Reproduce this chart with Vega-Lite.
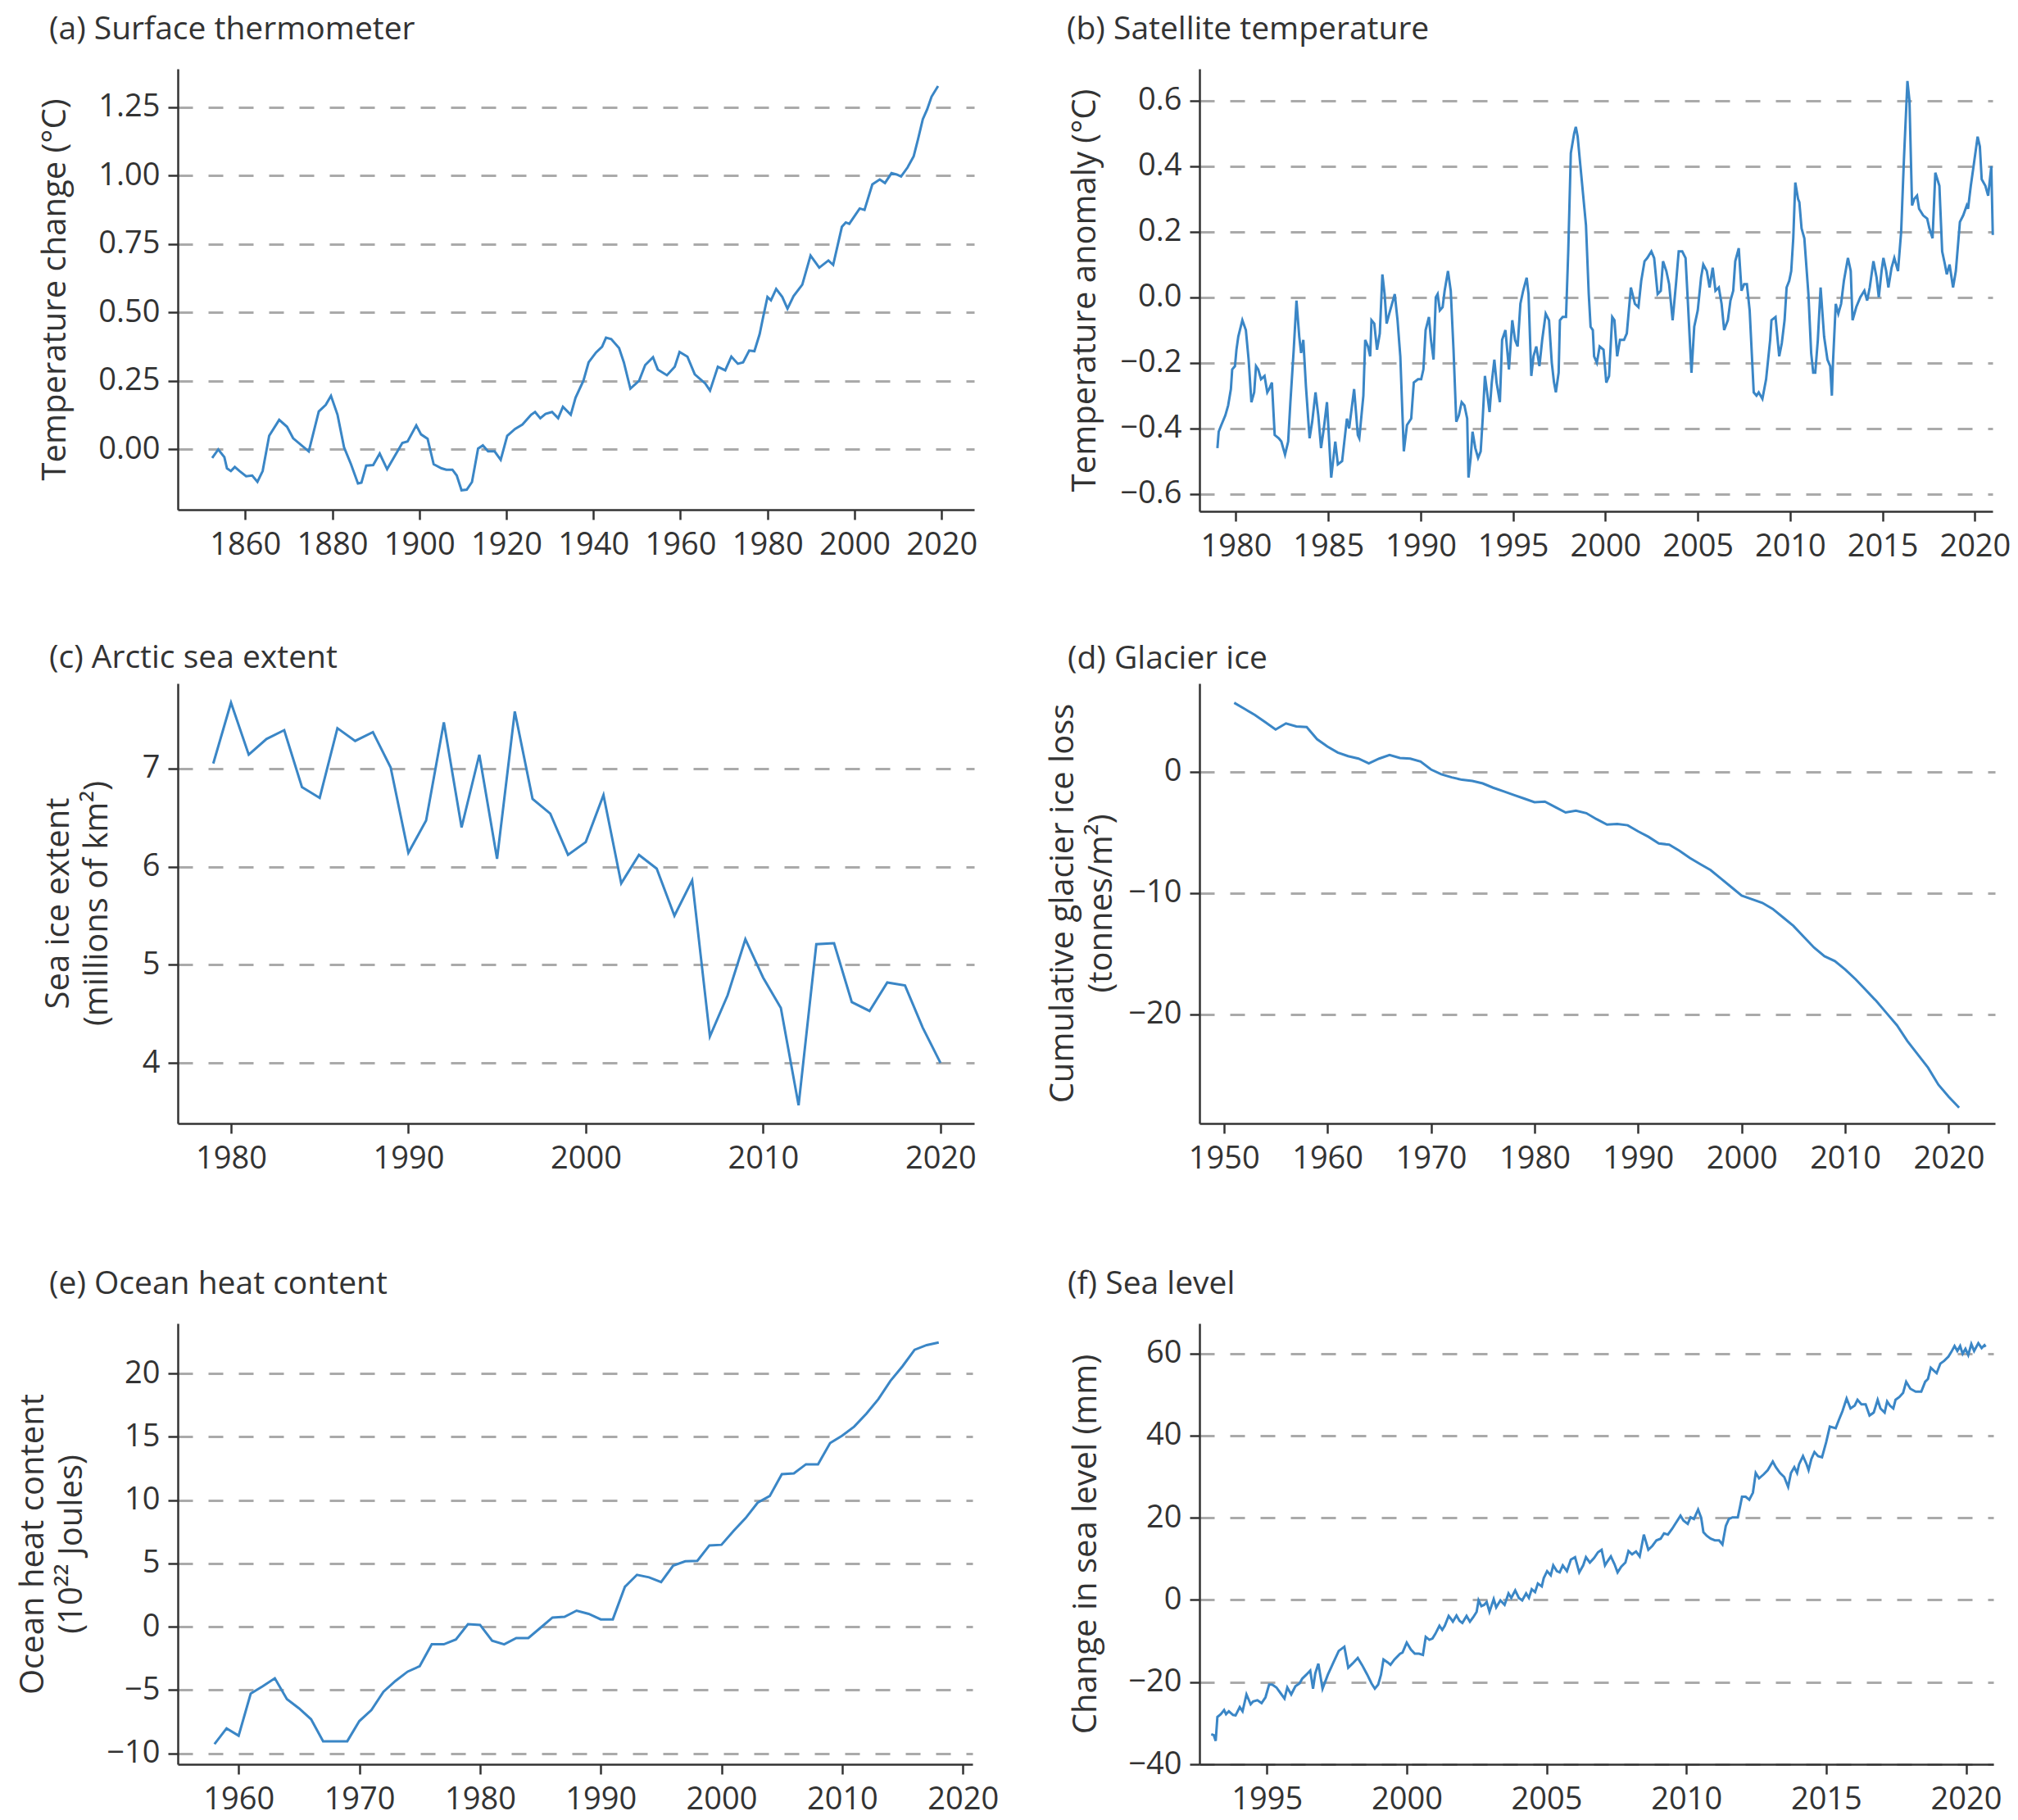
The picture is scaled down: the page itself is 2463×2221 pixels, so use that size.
{
  "$schema": "https://vega.github.io/schema/vega-lite/v6.json",
  "background": "white",
  "padding": {"left": 19, "top": 17, "right": 10, "bottom": 10},
  "datasets": {
    "a": [
      {"year": 1852.4, "value": -0.031}, {"year": 1853.8, "value": 0.0}, {"year": 1855.2, "value": -0.028}, {"year": 1855.8, "value": -0.069},
      {"year": 1856.7, "value": -0.079}, {"year": 1857.6, "value": -0.064}, {"year": 1858.7, "value": -0.079}, {"year": 1860.2, "value": -0.098},
      {"year": 1861.6, "value": -0.095}, {"year": 1862.8, "value": -0.118}, {"year": 1864.0, "value": -0.079}, {"year": 1865.5, "value": 0.05},
      {"year": 1867.8, "value": 0.108}, {"year": 1869.6, "value": 0.083}, {"year": 1871.0, "value": 0.041}, {"year": 1874.6, "value": -0.007},
      {"year": 1876.9, "value": 0.139}, {"year": 1878.5, "value": 0.163}, {"year": 1879.7, "value": 0.196}, {"year": 1881.2, "value": 0.127},
      {"year": 1882.7, "value": 0.008}, {"year": 1884.3, "value": -0.054}, {"year": 1885.9, "value": -0.124}, {"year": 1886.7, "value": -0.121},
      {"year": 1887.8, "value": -0.059}, {"year": 1889.4, "value": -0.057}, {"year": 1890.9, "value": -0.015}, {"year": 1892.6, "value": -0.072},
      {"year": 1896.1, "value": 0.024}, {"year": 1897.3, "value": 0.029}, {"year": 1899.3, "value": 0.088}, {"year": 1900.4, "value": 0.055},
      {"year": 1901.9, "value": 0.039}, {"year": 1903.3, "value": -0.054}, {"year": 1905.1, "value": -0.069}, {"year": 1906.2, "value": -0.074},
      {"year": 1907.6, "value": -0.074}, {"year": 1908.6, "value": -0.095}, {"year": 1909.7, "value": -0.149}, {"year": 1910.9, "value": -0.147},
      {"year": 1912.1, "value": -0.119}, {"year": 1913.5, "value": 0.003}, {"year": 1914.6, "value": 0.015}, {"year": 1915.8, "value": -0.007},
      {"year": 1917.3, "value": -0.007}, {"year": 1918.7, "value": -0.038}, {"year": 1920.2, "value": 0.05}, {"year": 1922.0, "value": 0.075},
      {"year": 1923.7, "value": 0.091}, {"year": 1925.7, "value": 0.127}, {"year": 1926.6, "value": 0.137}, {"year": 1927.8, "value": 0.114},
      {"year": 1929.0, "value": 0.13}, {"year": 1930.5, "value": 0.137}, {"year": 1931.9, "value": 0.114}, {"year": 1933.0, "value": 0.156},
      {"year": 1934.8, "value": 0.127}, {"year": 1935.9, "value": 0.189}, {"year": 1937.7, "value": 0.251}, {"year": 1938.9, "value": 0.318},
      {"year": 1940.6, "value": 0.354}, {"year": 1942.0, "value": 0.375}, {"year": 1942.9, "value": 0.408}, {"year": 1944.1, "value": 0.403},
      {"year": 1945.9, "value": 0.37}, {"year": 1947.0, "value": 0.318}, {"year": 1948.5, "value": 0.222}, {"year": 1950.5, "value": 0.251},
      {"year": 1951.9, "value": 0.308}, {"year": 1953.7, "value": 0.337}, {"year": 1954.8, "value": 0.292}, {"year": 1956.9, "value": 0.271},
      {"year": 1958.7, "value": 0.302}, {"year": 1959.8, "value": 0.356}, {"year": 1961.6, "value": 0.339}, {"year": 1963.3, "value": 0.274},
      {"year": 1965.7, "value": 0.241}, {"year": 1966.8, "value": 0.215}, {"year": 1968.6, "value": 0.302}, {"year": 1970.3, "value": 0.289},
      {"year": 1971.7, "value": 0.339}, {"year": 1973.2, "value": 0.313}, {"year": 1974.4, "value": 0.318}, {"year": 1975.8, "value": 0.361},
      {"year": 1977.0, "value": 0.359}, {"year": 1978.2, "value": 0.421}, {"year": 1979.0, "value": 0.483}, {"year": 1980.0, "value": 0.557},
      {"year": 1980.8, "value": 0.545}, {"year": 1982.0, "value": 0.586}, {"year": 1983.4, "value": 0.557}, {"year": 1984.6, "value": 0.514},
      {"year": 1986.0, "value": 0.56}, {"year": 1988.0, "value": 0.602}, {"year": 1989.9, "value": 0.708}, {"year": 1991.9, "value": 0.664},
      {"year": 1994.0, "value": 0.69}, {"year": 1995.1, "value": 0.674}, {"year": 1997.1, "value": 0.813}, {"year": 1998.0, "value": 0.829},
      {"year": 1998.8, "value": 0.824}, {"year": 2001.2, "value": 0.88}, {"year": 2002.3, "value": 0.875}, {"year": 2004.1, "value": 0.968},
      {"year": 2005.8, "value": 0.986}, {"year": 2007.0, "value": 0.973}, {"year": 2008.5, "value": 1.009}, {"year": 2009.7, "value": 1.004},
      {"year": 2010.7, "value": 0.997}, {"year": 2012.2, "value": 1.03}, {"year": 2013.6, "value": 1.071}, {"year": 2014.6, "value": 1.133},
      {"year": 2015.7, "value": 1.206}, {"year": 2016.7, "value": 1.242}, {"year": 2017.7, "value": 1.288}, {"year": 2019.2, "value": 1.327}
    ],
    "b": [
      {"year": 1979.0, "value": -0.46}, {"year": 1979.07, "value": -0.41}, {"year": 1979.21, "value": -0.39}, {"year": 1979.43, "value": -0.36},
      {"year": 1979.58, "value": -0.33}, {"year": 1979.73, "value": -0.28}, {"year": 1979.8, "value": -0.22}, {"year": 1979.95, "value": -0.21},
      {"year": 1980.03, "value": -0.16}, {"year": 1980.13, "value": -0.12}, {"year": 1980.35, "value": -0.07}, {"year": 1980.54, "value": -0.1},
      {"year": 1980.69, "value": -0.19}, {"year": 1980.84, "value": -0.32}, {"year": 1980.99, "value": -0.29}, {"year": 1981.09, "value": -0.21},
      {"year": 1981.21, "value": -0.22}, {"year": 1981.36, "value": -0.25}, {"year": 1981.55, "value": -0.24}, {"year": 1981.7, "value": -0.29},
      {"year": 1981.8, "value": -0.28}, {"year": 1981.95, "value": -0.26}, {"year": 1982.1, "value": -0.42}, {"year": 1982.32, "value": -0.43},
      {"year": 1982.46, "value": -0.44}, {"year": 1982.66, "value": -0.48}, {"year": 1982.83, "value": -0.44}, {"year": 1982.95, "value": -0.32},
      {"year": 1983.13, "value": -0.16}, {"year": 1983.28, "value": -0.01}, {"year": 1983.43, "value": -0.12}, {"year": 1983.53, "value": -0.17},
      {"year": 1983.65, "value": -0.13}, {"year": 1983.79, "value": -0.27}, {"year": 1983.99, "value": -0.43}, {"year": 1984.13, "value": -0.38},
      {"year": 1984.31, "value": -0.29}, {"year": 1984.46, "value": -0.36}, {"year": 1984.61, "value": -0.46}, {"year": 1984.76, "value": -0.4},
      {"year": 1984.93, "value": -0.32}, {"year": 1985.16, "value": -0.55}, {"year": 1985.38, "value": -0.44}, {"year": 1985.52, "value": -0.51},
      {"year": 1985.75, "value": -0.5}, {"year": 1986.01, "value": -0.37}, {"year": 1986.13, "value": -0.4}, {"year": 1986.4, "value": -0.28},
      {"year": 1986.6, "value": -0.42}, {"year": 1986.68, "value": -0.43}, {"year": 1986.9, "value": -0.3}, {"year": 1987.0, "value": -0.13},
      {"year": 1987.15, "value": -0.15}, {"year": 1987.27, "value": -0.18}, {"year": 1987.34, "value": -0.07}, {"year": 1987.49, "value": -0.08},
      {"year": 1987.64, "value": -0.16}, {"year": 1987.79, "value": -0.11}, {"year": 1987.93, "value": 0.07}, {"year": 1988.05, "value": 0.01},
      {"year": 1988.16, "value": -0.08}, {"year": 1988.3, "value": -0.05}, {"year": 1988.45, "value": -0.02}, {"year": 1988.6, "value": 0.01},
      {"year": 1988.75, "value": -0.07}, {"year": 1988.9, "value": -0.18}, {"year": 1989.09, "value": -0.47}, {"year": 1989.26, "value": -0.39},
      {"year": 1989.49, "value": -0.37}, {"year": 1989.63, "value": -0.26}, {"year": 1989.86, "value": -0.25}, {"year": 1990.03, "value": -0.25},
      {"year": 1990.15, "value": -0.22}, {"year": 1990.27, "value": -0.1}, {"year": 1990.45, "value": -0.06}, {"year": 1990.56, "value": -0.13},
      {"year": 1990.7, "value": -0.19}, {"year": 1990.82, "value": 0.0}, {"year": 1990.92, "value": 0.01}, {"year": 1991.04, "value": -0.04},
      {"year": 1991.19, "value": -0.03}, {"year": 1991.3, "value": 0.02}, {"year": 1991.48, "value": 0.08}, {"year": 1991.63, "value": 0.02},
      {"year": 1991.78, "value": -0.16}, {"year": 1991.93, "value": -0.38}, {"year": 1992.07, "value": -0.36}, {"year": 1992.22, "value": -0.32},
      {"year": 1992.37, "value": -0.33}, {"year": 1992.52, "value": -0.37}, {"year": 1992.59, "value": -0.55}, {"year": 1992.71, "value": -0.49},
      {"year": 1992.81, "value": -0.41}, {"year": 1992.96, "value": -0.46}, {"year": 1993.11, "value": -0.49}, {"year": 1993.25, "value": -0.47},
      {"year": 1993.36, "value": -0.37}, {"year": 1993.48, "value": -0.24}, {"year": 1993.62, "value": -0.3}, {"year": 1993.73, "value": -0.35},
      {"year": 1993.85, "value": -0.26}, {"year": 1993.99, "value": -0.19}, {"year": 1994.11, "value": -0.26}, {"year": 1994.29, "value": -0.32},
      {"year": 1994.41, "value": -0.13}, {"year": 1994.59, "value": -0.1}, {"year": 1994.78, "value": -0.22}, {"year": 1994.96, "value": -0.07},
      {"year": 1995.11, "value": -0.13}, {"year": 1995.25, "value": -0.15}, {"year": 1995.4, "value": -0.02}, {"year": 1995.55, "value": 0.02},
      {"year": 1995.74, "value": 0.06}, {"year": 1995.84, "value": 0.01}, {"year": 1995.99, "value": -0.24}, {"year": 1996.11, "value": -0.18},
      {"year": 1996.26, "value": -0.15}, {"year": 1996.43, "value": -0.21}, {"year": 1996.58, "value": -0.13}, {"year": 1996.77, "value": -0.05},
      {"year": 1996.95, "value": -0.07}, {"year": 1997.1, "value": -0.2}, {"year": 1997.22, "value": -0.26}, {"year": 1997.32, "value": -0.29},
      {"year": 1997.47, "value": -0.23}, {"year": 1997.54, "value": -0.07}, {"year": 1997.69, "value": -0.06}, {"year": 1997.87, "value": -0.06},
      {"year": 1997.99, "value": 0.14}, {"year": 1998.13, "value": 0.44}, {"year": 1998.31, "value": 0.5}, {"year": 1998.4, "value": 0.52},
      {"year": 1998.5, "value": 0.49}, {"year": 1998.65, "value": 0.4}, {"year": 1998.8, "value": 0.31}, {"year": 1998.95, "value": 0.22},
      {"year": 1999.1, "value": 0.01}, {"year": 1999.2, "value": -0.09}, {"year": 1999.32, "value": -0.1}, {"year": 1999.39, "value": -0.18},
      {"year": 1999.54, "value": -0.2}, {"year": 1999.69, "value": -0.15}, {"year": 1999.9, "value": -0.16}, {"year": 2000.05, "value": -0.26},
      {"year": 2000.2, "value": -0.24}, {"year": 2000.37, "value": -0.06}, {"year": 2000.49, "value": -0.07}, {"year": 2000.64, "value": -0.18},
      {"year": 2000.79, "value": -0.13}, {"year": 2001.01, "value": -0.13}, {"year": 2001.16, "value": -0.11}, {"year": 2001.38, "value": 0.03},
      {"year": 2001.6, "value": -0.02}, {"year": 2001.79, "value": -0.03}, {"year": 2001.94, "value": 0.05}, {"year": 2002.12, "value": 0.11},
      {"year": 2002.27, "value": 0.12}, {"year": 2002.49, "value": 0.14}, {"year": 2002.64, "value": 0.12}, {"year": 2002.83, "value": 0.01},
      {"year": 2003.0, "value": 0.02}, {"year": 2003.12, "value": 0.11}, {"year": 2003.3, "value": 0.08}, {"year": 2003.45, "value": 0.04},
      {"year": 2003.64, "value": -0.07}, {"year": 2003.82, "value": 0.04}, {"year": 2003.97, "value": 0.14}, {"year": 2004.16, "value": 0.14},
      {"year": 2004.34, "value": 0.12}, {"year": 2004.48, "value": -0.03}, {"year": 2004.66, "value": -0.23}, {"year": 2004.81, "value": -0.09},
      {"year": 2005.0, "value": -0.04}, {"year": 2005.18, "value": 0.06}, {"year": 2005.3, "value": 0.1}, {"year": 2005.49, "value": 0.08},
      {"year": 2005.64, "value": 0.03}, {"year": 2005.81, "value": 0.09}, {"year": 2005.96, "value": 0.02}, {"year": 2006.14, "value": 0.03},
      {"year": 2006.29, "value": -0.02}, {"year": 2006.43, "value": -0.1}, {"year": 2006.63, "value": -0.07}, {"year": 2006.77, "value": -0.01},
      {"year": 2006.92, "value": 0.02}, {"year": 2007.03, "value": 0.11}, {"year": 2007.22, "value": 0.15}, {"year": 2007.37, "value": 0.02},
      {"year": 2007.51, "value": 0.04}, {"year": 2007.66, "value": 0.04}, {"year": 2007.81, "value": -0.04}, {"year": 2008.03, "value": -0.29},
      {"year": 2008.18, "value": -0.3}, {"year": 2008.3, "value": -0.29}, {"year": 2008.5, "value": -0.31}, {"year": 2008.7, "value": -0.25},
      {"year": 2008.92, "value": -0.13}, {"year": 2008.99, "value": -0.07}, {"year": 2009.21, "value": -0.06}, {"year": 2009.41, "value": -0.18},
      {"year": 2009.55, "value": -0.14}, {"year": 2009.7, "value": -0.07}, {"year": 2009.81, "value": 0.03}, {"year": 2009.95, "value": 0.05},
      {"year": 2010.06, "value": 0.08}, {"year": 2010.17, "value": 0.18}, {"year": 2010.28, "value": 0.35}, {"year": 2010.43, "value": 0.3},
      {"year": 2010.5, "value": 0.29}, {"year": 2010.62, "value": 0.21}, {"year": 2010.77, "value": 0.18}, {"year": 2010.99, "value": 0.01},
      {"year": 2011.14, "value": -0.17}, {"year": 2011.25, "value": -0.23}, {"year": 2011.36, "value": -0.23}, {"year": 2011.5, "value": -0.13},
      {"year": 2011.65, "value": 0.03}, {"year": 2011.84, "value": -0.12}, {"year": 2012.02, "value": -0.19}, {"year": 2012.17, "value": -0.21},
      {"year": 2012.26, "value": -0.3}, {"year": 2012.32, "value": -0.2}, {"year": 2012.47, "value": -0.02}, {"year": 2012.61, "value": -0.05},
      {"year": 2012.76, "value": -0.02}, {"year": 2012.91, "value": 0.05}, {"year": 2013.13, "value": 0.12}, {"year": 2013.28, "value": 0.08},
      {"year": 2013.38, "value": -0.07}, {"year": 2013.58, "value": -0.03}, {"year": 2013.8, "value": 0.0}, {"year": 2014.02, "value": 0.02},
      {"year": 2014.17, "value": -0.01}, {"year": 2014.31, "value": 0.03}, {"year": 2014.51, "value": 0.11}, {"year": 2014.68, "value": 0.06},
      {"year": 2014.8, "value": 0.0}, {"year": 2014.95, "value": 0.08}, {"year": 2015.05, "value": 0.12}, {"year": 2015.2, "value": 0.08},
      {"year": 2015.32, "value": 0.03}, {"year": 2015.49, "value": 0.09}, {"year": 2015.64, "value": 0.12}, {"year": 2015.84, "value": 0.08},
      {"year": 2016.01, "value": 0.2}, {"year": 2016.16, "value": 0.42}, {"year": 2016.35, "value": 0.66}, {"year": 2016.46, "value": 0.6},
      {"year": 2016.6, "value": 0.28}, {"year": 2016.72, "value": 0.3}, {"year": 2016.87, "value": 0.31}, {"year": 2016.98, "value": 0.27},
      {"year": 2017.2, "value": 0.25}, {"year": 2017.42, "value": 0.24}, {"year": 2017.54, "value": 0.21}, {"year": 2017.71, "value": 0.18},
      {"year": 2017.86, "value": 0.38}, {"year": 2018.08, "value": 0.34}, {"year": 2018.23, "value": 0.14}, {"year": 2018.38, "value": 0.1},
      {"year": 2018.48, "value": 0.07}, {"year": 2018.63, "value": 0.1}, {"year": 2018.82, "value": 0.03}, {"year": 2018.97, "value": 0.08},
      {"year": 2019.19, "value": 0.23}, {"year": 2019.37, "value": 0.25}, {"year": 2019.56, "value": 0.28}, {"year": 2019.63, "value": 0.27},
      {"year": 2019.78, "value": 0.34}, {"year": 2019.93, "value": 0.4}, {"year": 2020.15, "value": 0.49}, {"year": 2020.27, "value": 0.46},
      {"year": 2020.37, "value": 0.36}, {"year": 2020.57, "value": 0.34}, {"year": 2020.72, "value": 0.31}, {"year": 2020.89, "value": 0.4},
      {"year": 2020.97, "value": 0.19}
    ],
    "c": [
      {"year": 1979, "value": 7.05}, {"year": 1980, "value": 7.67}, {"year": 1981, "value": 7.14}, {"year": 1982, "value": 7.3},
      {"year": 1983, "value": 7.39}, {"year": 1984, "value": 6.81}, {"year": 1985, "value": 6.7}, {"year": 1986, "value": 7.41},
      {"year": 1987, "value": 7.28}, {"year": 1988, "value": 7.37}, {"year": 1989, "value": 7.01}, {"year": 1990, "value": 6.14},
      {"year": 1991, "value": 6.47}, {"year": 1992, "value": 7.47}, {"year": 1993, "value": 6.4}, {"year": 1994, "value": 7.14},
      {"year": 1995, "value": 6.08}, {"year": 1996, "value": 7.58}, {"year": 1997, "value": 6.69}, {"year": 1998, "value": 6.54},
      {"year": 1999, "value": 6.12}, {"year": 2000, "value": 6.25}, {"year": 2001, "value": 6.73}, {"year": 2002, "value": 5.83},
      {"year": 2003, "value": 6.12}, {"year": 2004, "value": 5.98}, {"year": 2005, "value": 5.5}, {"year": 2006, "value": 5.86},
      {"year": 2007, "value": 4.27}, {"year": 2008, "value": 4.69}, {"year": 2009, "value": 5.26}, {"year": 2010, "value": 4.87},
      {"year": 2011, "value": 4.56}, {"year": 2012, "value": 3.57}, {"year": 2013, "value": 5.21}, {"year": 2014, "value": 5.22},
      {"year": 2015, "value": 4.62}, {"year": 2016, "value": 4.53}, {"year": 2017, "value": 4.82}, {"year": 2018, "value": 4.79},
      {"year": 2019, "value": 4.36}, {"year": 2020, "value": 4.0}
    ],
    "d": [
      {"year": 1951, "value": 5.7}, {"year": 1952, "value": 5.2}, {"year": 1953, "value": 4.7}, {"year": 1954, "value": 4.1},
      {"year": 1955, "value": 3.5}, {"year": 1956, "value": 4.0}, {"year": 1957, "value": 3.75}, {"year": 1958, "value": 3.7},
      {"year": 1959, "value": 2.7}, {"year": 1960, "value": 2.1}, {"year": 1961, "value": 1.6}, {"year": 1962, "value": 1.3},
      {"year": 1963, "value": 1.1}, {"year": 1964, "value": 0.7}, {"year": 1965, "value": 1.1}, {"year": 1966, "value": 1.4},
      {"year": 1967, "value": 1.15}, {"year": 1968, "value": 1.1}, {"year": 1969, "value": 0.85}, {"year": 1970, "value": 0.2},
      {"year": 1971, "value": -0.2}, {"year": 1972, "value": -0.45}, {"year": 1973, "value": -0.65}, {"year": 1974, "value": -0.75},
      {"year": 1975, "value": -0.95}, {"year": 1976, "value": -1.3}, {"year": 1977, "value": -1.6}, {"year": 1978, "value": -1.9},
      {"year": 1979, "value": -2.2}, {"year": 1980, "value": -2.5}, {"year": 1981, "value": -2.45}, {"year": 1982, "value": -2.9},
      {"year": 1983, "value": -3.35}, {"year": 1984, "value": -3.2}, {"year": 1985, "value": -3.4}, {"year": 1986, "value": -3.9},
      {"year": 1987, "value": -4.35}, {"year": 1988, "value": -4.3}, {"year": 1989, "value": -4.4}, {"year": 1990, "value": -4.9},
      {"year": 1991, "value": -5.35}, {"year": 1992, "value": -5.9}, {"year": 1993, "value": -6.0}, {"year": 1994, "value": -6.5},
      {"year": 1995, "value": -7.1}, {"year": 1996, "value": -7.6}, {"year": 1997, "value": -8.1}, {"year": 1998, "value": -8.8},
      {"year": 1999, "value": -9.5}, {"year": 2000, "value": -10.2}, {"year": 2001, "value": -10.5}, {"year": 2002, "value": -10.8},
      {"year": 2003, "value": -11.3}, {"year": 2004, "value": -12.0}, {"year": 2005, "value": -12.7}, {"year": 2006, "value": -13.6},
      {"year": 2007, "value": -14.5}, {"year": 2008, "value": -15.2}, {"year": 2009, "value": -15.6}, {"year": 2010, "value": -16.3},
      {"year": 2011, "value": -17.1}, {"year": 2012, "value": -18.0}, {"year": 2013, "value": -18.9}, {"year": 2014, "value": -19.9},
      {"year": 2015, "value": -20.9}, {"year": 2016, "value": -22.2}, {"year": 2017, "value": -23.3}, {"year": 2018, "value": -24.4},
      {"year": 2019, "value": -25.8}, {"year": 2020, "value": -26.8}, {"year": 2021, "value": -27.7}
    ],
    "e": [
      {"year": 1958, "value": -9.28}, {"year": 1959, "value": -8.03}, {"year": 1960, "value": -8.61}, {"year": 1961, "value": -5.29},
      {"year": 1962, "value": -4.71}, {"year": 1963, "value": -4.08}, {"year": 1964, "value": -5.72}, {"year": 1965, "value": -6.45},
      {"year": 1966, "value": -7.31}, {"year": 1967, "value": -9.05}, {"year": 1968, "value": -9.05}, {"year": 1969, "value": -9.05},
      {"year": 1970, "value": -7.46}, {"year": 1971, "value": -6.59}, {"year": 1972, "value": -5.14}, {"year": 1973, "value": -4.28},
      {"year": 1974, "value": -3.55}, {"year": 1975, "value": -3.12}, {"year": 1976, "value": -1.39}, {"year": 1977, "value": -1.39},
      {"year": 1978, "value": -1.01}, {"year": 1979, "value": 0.2}, {"year": 1980, "value": 0.14}, {"year": 1981, "value": -1.1},
      {"year": 1982, "value": -1.39}, {"year": 1983, "value": -0.9}, {"year": 1984, "value": -0.9}, {"year": 1985, "value": -0.09},
      {"year": 1986, "value": 0.72}, {"year": 1987, "value": 0.78}, {"year": 1988, "value": 1.27}, {"year": 1989, "value": 1.01},
      {"year": 1990, "value": 0.58}, {"year": 1991, "value": 0.58}, {"year": 1992, "value": 3.15}, {"year": 1993, "value": 4.1},
      {"year": 1994, "value": 3.9}, {"year": 1995, "value": 3.53}, {"year": 1996, "value": 4.83}, {"year": 1997, "value": 5.17},
      {"year": 1998, "value": 5.2}, {"year": 1999, "value": 6.42}, {"year": 2000, "value": 6.47}, {"year": 2001, "value": 7.57},
      {"year": 2002, "value": 8.58}, {"year": 2003, "value": 9.8}, {"year": 2004, "value": 10.32}, {"year": 2005, "value": 12.05},
      {"year": 2006, "value": 12.11}, {"year": 2007, "value": 12.83}, {"year": 2008, "value": 12.83}, {"year": 2009, "value": 14.51},
      {"year": 2010, "value": 15.09}, {"year": 2011, "value": 15.81}, {"year": 2012, "value": 16.82}, {"year": 2013, "value": 17.98},
      {"year": 2014, "value": 19.42}, {"year": 2015, "value": 20.58}, {"year": 2016, "value": 21.88}, {"year": 2017, "value": 22.25},
      {"year": 2018, "value": 22.46}
    ],
    "f": [
      {"year": 1993.01, "value": -32.7}, {"year": 1993.1, "value": -32.9}, {"year": 1993.17, "value": -34.3}, {"year": 1993.23, "value": -28.5},
      {"year": 1993.35, "value": -27.8}, {"year": 1993.47, "value": -26.8}, {"year": 1993.54, "value": -27.8}, {"year": 1993.64, "value": -27.1},
      {"year": 1993.79, "value": -28.0}, {"year": 1993.88, "value": -28.1}, {"year": 1994.03, "value": -26.1}, {"year": 1994.13, "value": -27.1},
      {"year": 1994.27, "value": -23.0}, {"year": 1994.42, "value": -25.4}, {"year": 1994.51, "value": -24.7}, {"year": 1994.66, "value": -24.4},
      {"year": 1994.81, "value": -25.1}, {"year": 1994.95, "value": -23.7}, {"year": 1995.08, "value": -20.6}, {"year": 1995.19, "value": -20.6},
      {"year": 1995.34, "value": -21.3}, {"year": 1995.49, "value": -22.7}, {"year": 1995.63, "value": -24.0}, {"year": 1995.73, "value": -21.3},
      {"year": 1995.87, "value": -23.0}, {"year": 1996.02, "value": -21.0}, {"year": 1996.17, "value": -20.3}, {"year": 1996.26, "value": -19.2},
      {"year": 1996.41, "value": -18.2}, {"year": 1996.55, "value": -17.2}, {"year": 1996.65, "value": -21.6}, {"year": 1996.73, "value": -17.9},
      {"year": 1996.84, "value": -15.5}, {"year": 1996.99, "value": -21.6}, {"year": 1997.18, "value": -18.2}, {"year": 1997.38, "value": -15.2},
      {"year": 1997.57, "value": -12.4}, {"year": 1997.77, "value": -11.4}, {"year": 1997.91, "value": -16.5}, {"year": 1998.06, "value": -15.5},
      {"year": 1998.25, "value": -14.1}, {"year": 1998.4, "value": -15.8}, {"year": 1998.59, "value": -18.2}, {"year": 1998.74, "value": -20.3},
      {"year": 1998.86, "value": -21.6}, {"year": 1998.98, "value": -20.6}, {"year": 1999.08, "value": -18.2}, {"year": 1999.17, "value": -14.5},
      {"year": 1999.32, "value": -15.2}, {"year": 1999.42, "value": -15.8}, {"year": 1999.56, "value": -14.5}, {"year": 1999.76, "value": -13.1},
      {"year": 1999.85, "value": -12.8}, {"year": 2000.0, "value": -10.4}, {"year": 2000.15, "value": -12.1}, {"year": 2000.29, "value": -13.1},
      {"year": 2000.44, "value": -13.1}, {"year": 2000.58, "value": -13.4}, {"year": 2000.68, "value": -9.0}, {"year": 2000.81, "value": -9.7},
      {"year": 2000.92, "value": -9.4}, {"year": 2001.02, "value": -8.3}, {"year": 2001.17, "value": -6.3}, {"year": 2001.27, "value": -7.3},
      {"year": 2001.36, "value": -6.3}, {"year": 2001.5, "value": -3.9}, {"year": 2001.58, "value": -4.6}, {"year": 2001.65, "value": -5.3},
      {"year": 2001.78, "value": -3.8}, {"year": 2001.89, "value": -5.1}, {"year": 2001.99, "value": -5.6}, {"year": 2002.14, "value": -3.9},
      {"year": 2002.26, "value": -5.3}, {"year": 2002.38, "value": -4.2}, {"year": 2002.5, "value": -2.9}, {"year": 2002.57, "value": -0.1},
      {"year": 2002.67, "value": -1.5}, {"year": 2002.77, "value": -1.2}, {"year": 2002.86, "value": -0.5}, {"year": 2002.96, "value": -2.9},
      {"year": 2003.11, "value": 0.2}, {"year": 2003.2, "value": -1.8}, {"year": 2003.35, "value": -0.1}, {"year": 2003.5, "value": -1.2},
      {"year": 2003.64, "value": 1.6}, {"year": 2003.74, "value": 0.5}, {"year": 2003.88, "value": 2.3}, {"year": 2004.01, "value": 0.5},
      {"year": 2004.13, "value": -0.1}, {"year": 2004.27, "value": 1.6}, {"year": 2004.37, "value": 0.5}, {"year": 2004.47, "value": 2.6},
      {"year": 2004.59, "value": 1.9}, {"year": 2004.69, "value": 4.0}, {"year": 2004.83, "value": 3.3}, {"year": 2004.9, "value": 5.3},
      {"year": 2005.02, "value": 7.0}, {"year": 2005.15, "value": 6.0}, {"year": 2005.24, "value": 8.4}, {"year": 2005.37, "value": 7.0},
      {"year": 2005.47, "value": 6.7}, {"year": 2005.58, "value": 8.4}, {"year": 2005.73, "value": 7.0}, {"year": 2005.87, "value": 9.8},
      {"year": 2006.02, "value": 10.4}, {"year": 2006.17, "value": 6.7}, {"year": 2006.31, "value": 8.4}, {"year": 2006.41, "value": 10.4},
      {"year": 2006.55, "value": 9.1}, {"year": 2006.7, "value": 10.2}, {"year": 2006.84, "value": 11.6}, {"year": 2006.97, "value": 12.2},
      {"year": 2007.09, "value": 8.4}, {"year": 2007.18, "value": 9.4}, {"year": 2007.3, "value": 10.6}, {"year": 2007.43, "value": 8.7},
      {"year": 2007.54, "value": 6.7}, {"year": 2007.67, "value": 8.1}, {"year": 2007.82, "value": 9.1}, {"year": 2007.93, "value": 11.9},
      {"year": 2008.06, "value": 11.1}, {"year": 2008.2, "value": 11.8}, {"year": 2008.33, "value": 10.6}, {"year": 2008.48, "value": 15.9},
      {"year": 2008.64, "value": 12.2}, {"year": 2008.79, "value": 13.2}, {"year": 2008.93, "value": 14.5}, {"year": 2009.08, "value": 14.9},
      {"year": 2009.2, "value": 16.2}, {"year": 2009.34, "value": 15.9}, {"year": 2009.49, "value": 17.3}, {"year": 2009.61, "value": 18.6},
      {"year": 2009.79, "value": 20.5}, {"year": 2009.9, "value": 19.3}, {"year": 2010.05, "value": 18.5}, {"year": 2010.15, "value": 20.1},
      {"year": 2010.27, "value": 19.7}, {"year": 2010.42, "value": 22.0}, {"year": 2010.53, "value": 20.0}, {"year": 2010.61, "value": 16.5},
      {"year": 2010.73, "value": 15.6}, {"year": 2010.87, "value": 14.9}, {"year": 2011.02, "value": 14.5}, {"year": 2011.17, "value": 14.5},
      {"year": 2011.29, "value": 13.5}, {"year": 2011.41, "value": 18.0}, {"year": 2011.52, "value": 19.7}, {"year": 2011.65, "value": 20.1},
      {"year": 2011.84, "value": 20.1}, {"year": 2011.92, "value": 22.7}, {"year": 2011.99, "value": 25.1}, {"year": 2012.12, "value": 25.1},
      {"year": 2012.25, "value": 24.4}, {"year": 2012.38, "value": 26.1}, {"year": 2012.48, "value": 30.9}, {"year": 2012.6, "value": 29.6},
      {"year": 2012.77, "value": 30.6}, {"year": 2012.91, "value": 31.6}, {"year": 2013.09, "value": 33.7}, {"year": 2013.2, "value": 32.3},
      {"year": 2013.35, "value": 30.9}, {"year": 2013.5, "value": 29.9}, {"year": 2013.64, "value": 27.5}, {"year": 2013.74, "value": 30.9},
      {"year": 2013.86, "value": 32.3}, {"year": 2013.96, "value": 30.9}, {"year": 2014.03, "value": 33.0}, {"year": 2014.17, "value": 35.0},
      {"year": 2014.3, "value": 33.0}, {"year": 2014.37, "value": 31.6}, {"year": 2014.47, "value": 34.3}, {"year": 2014.58, "value": 36.0},
      {"year": 2014.71, "value": 35.0}, {"year": 2014.85, "value": 34.7}, {"year": 2015.0, "value": 38.4}, {"year": 2015.13, "value": 42.2},
      {"year": 2015.34, "value": 41.8}, {"year": 2015.46, "value": 43.9}, {"year": 2015.58, "value": 45.9}, {"year": 2015.73, "value": 49.0},
      {"year": 2015.87, "value": 46.6}, {"year": 2016.02, "value": 47.3}, {"year": 2016.12, "value": 48.7}, {"year": 2016.26, "value": 47.6},
      {"year": 2016.41, "value": 47.6}, {"year": 2016.55, "value": 44.9}, {"year": 2016.7, "value": 45.6}, {"year": 2016.84, "value": 48.7},
      {"year": 2016.94, "value": 46.6}, {"year": 2017.09, "value": 45.6}, {"year": 2017.18, "value": 48.3}, {"year": 2017.28, "value": 47.3},
      {"year": 2017.4, "value": 46.6}, {"year": 2017.48, "value": 48.7}, {"year": 2017.62, "value": 49.4}, {"year": 2017.75, "value": 50.4},
      {"year": 2017.86, "value": 53.1}, {"year": 2018.01, "value": 51.4}, {"year": 2018.2, "value": 50.7}, {"year": 2018.4, "value": 50.7},
      {"year": 2018.54, "value": 53.1}, {"year": 2018.64, "value": 53.8}, {"year": 2018.74, "value": 56.5}, {"year": 2018.85, "value": 55.8},
      {"year": 2018.95, "value": 55.2}, {"year": 2019.08, "value": 57.5}, {"year": 2019.22, "value": 58.2}, {"year": 2019.37, "value": 59.2},
      {"year": 2019.47, "value": 60.3}, {"year": 2019.59, "value": 61.8}, {"year": 2019.69, "value": 60.6}, {"year": 2019.79, "value": 61.8},
      {"year": 2019.88, "value": 59.9}, {"year": 2019.98, "value": 61.1}, {"year": 2020.08, "value": 59.6}, {"year": 2020.19, "value": 62.3},
      {"year": 2020.29, "value": 60.6}, {"year": 2020.44, "value": 62.5}, {"year": 2020.56, "value": 61.3}, {"year": 2020.66, "value": 62.0},
      {"year": 2020.7, "value": 61.6}
    ]
  },
  "columns": 2,
  "bounds": "flush",
  "align": "each",
  "spacing": {"row": 244, "column": 275},
  "concat": [
    {
      "width": 972, "height": 538,
      "title": {"text": "(a) Surface thermometer", "anchor": "start", "frame": "group", "dx": -157, "offset": 28},
      "data": {"name": "a"},
      "mark": {"type": "line", "color": "#3a86c6", "strokeWidth": 3},
      "encoding": {
        "x": {"field": "year", "type": "quantitative", "scale": {"domain": [1844.5, 2027.5], "nice": false, "zero": false},
              "axis": {"values": [1860, 1880, 1900, 1920, 1940, 1960, 1980, 2000, 2020], "format": "d", "title": null}},
        "y": {"field": "value", "type": "quantitative", "scale": {"domain": [-0.22, 1.39], "nice": false, "zero": false},
              "axis": {"values": [0, 0.25, 0.5, 0.75, 1, 1.25], "format": ".2f", "title": "Temperature change (°C)", "titleX": -130, "titleY": 269, "grid": true}}
      }
    },
    {
      "width": 968, "height": 540,
      "title": {"text": "(b) Satellite temperature", "anchor": "start", "frame": "group", "dx": -162, "offset": 28},
      "data": {"name": "b"},
      "mark": {"type": "line", "color": "#3a86c6", "strokeWidth": 3},
      "encoding": {
        "x": {"field": "year", "type": "quantitative", "scale": {"domain": [1978.03, 2020.96], "nice": false, "zero": false},
              "axis": {"values": [1980, 1985, 1990, 1995, 2000, 2005, 2010, 2015, 2020], "format": "d", "title": null}},
        "y": {"field": "value", "type": "quantitative", "scale": {"domain": [-0.653, 0.697], "nice": false, "zero": false},
              "axis": {"values": [-0.6, -0.4, -0.2, 0, 0.2, 0.4, 0.6], "format": ".1f", "title": "Temperature anomaly (°C)", "titleX": -120, "titleY": 270, "grid": true}}
      }
    },
    {
      "width": 972, "height": 503,
      "title": {"text": "(c) Arctic sea extent", "anchor": "start", "frame": "group", "dx": -157, "offset": 28},
      "data": {"name": "c"},
      "mark": {"type": "line", "color": "#3a86c6", "strokeWidth": 3},
      "encoding": {
        "x": {"field": "year", "type": "quantitative", "scale": {"domain": [1977.0, 2021.9], "nice": false, "zero": false},
              "axis": {"values": [1980, 1990, 2000, 2010, 2020], "format": "d", "title": null}},
        "y": {"field": "value", "type": "quantitative", "scale": {"domain": [3.384, 7.866], "range": [503, -34], "nice": false, "zero": false},
              "axis": {"values": [4, 5, 6, 7], "format": "d", "title": ["Sea ice extent", "(millions of km²)"], "titleX": -126, "titleY": 234, "titleLineHeight": 47, "grid": true}}
      }
    },
    {
      "width": 971, "height": 503,
      "title": {"text": "(d) Glacier ice", "anchor": "start", "frame": "group", "dx": -161, "offset": 28},
      "data": {"name": "d"},
      "mark": {"type": "line", "color": "#3a86c6", "strokeWidth": 3},
      "encoding": {
        "x": {"field": "year", "type": "quantitative", "scale": {"domain": [1947.65, 2024.47], "nice": false, "zero": false},
              "axis": {"values": [1950, 1960, 1970, 1980, 1990, 2000, 2010, 2020], "format": "d", "title": null}},
        "y": {"field": "value", "type": "quantitative", "scale": {"domain": [-29, 7.3], "range": [503, -34], "nice": false, "zero": false},
              "axis": {"values": [-20, -10, 0], "format": "d", "title": ["Cumulative glacier ice loss", "(tonnes/m²)"], "titleX": -147, "titleY": 234, "titleLineHeight": 47, "grid": true}}
      }
    },
    {
      "width": 970, "height": 538,
      "title": {"text": "(e) Ocean heat content", "anchor": "start", "frame": "group", "dx": -157, "offset": 28},
      "data": {"name": "e"},
      "mark": {"type": "line", "color": "#3a86c6", "strokeWidth": 3},
      "encoding": {
        "x": {"field": "year", "type": "quantitative", "scale": {"domain": [1954.96, 2020.8], "nice": false, "zero": false},
              "axis": {"values": [1960, 1970, 1980, 1990, 2000, 2010, 2020], "format": "d", "title": null}},
        "y": {"field": "value", "type": "quantitative", "scale": {"domain": [-10.87, 23.96], "nice": false, "zero": false},
              "axis": {"values": [-10, -5, 0, 5, 10, 15, 20], "format": "d", "title": ["Ocean heat content", "(10²² Joules)"], "titleX": -157, "titleY": 269, "titleLineHeight": 47, "grid": true}}
      }
    },
    {
      "width": 969, "height": 538,
      "title": {"text": "(f) Sea level", "anchor": "start", "frame": "group", "dx": -161, "offset": 28},
      "data": {"name": "f"},
      "mark": {"type": "line", "color": "#3a86c6", "strokeWidth": 3},
      "encoding": {
        "x": {"field": "year", "type": "quantitative", "scale": {"domain": [1992.59, 2020.98], "nice": false, "zero": false},
              "axis": {"values": [1995, 2000, 2005, 2010, 2015, 2020], "format": "d", "title": null}},
        "y": {"field": "value", "type": "quantitative", "scale": {"domain": [-40, 67.3], "nice": false, "zero": false},
              "axis": {"values": [-40, -20, 0, 20, 40, 60], "format": "d", "title": "Change in sea level (mm)", "titleX": -119, "titleY": 269, "grid": true}}
      }
    }
  ],
  "config": {
    "font": "Open Sans",
    "view": {"stroke": null},
    "axis": {
      "domainColor": "#333333", "domainWidth": 2.5,
      "tickColor": "#333333", "tickWidth": 2.5, "tickSize": 12,
      "labelFont": "Open Sans", "labelFontSize": 38, "labelColor": "#333333", "labelPadding": 10,
      "labelOverlap": false, "labelFlush": false,
      "titleFont": "Open Sans", "titleFontSize": 40, "titleFontWeight": "normal", "titleColor": "#333333",
      "gridColor": "#aaaaaa", "gridDash": [18, 19], "gridWidth": 3
    },
    "axisX": {"grid": false, "labelPadding": 12},
    "title": {"font": "Open Sans", "fontSize": 39, "fontWeight": "normal", "color": "#333333"}
  }
}
